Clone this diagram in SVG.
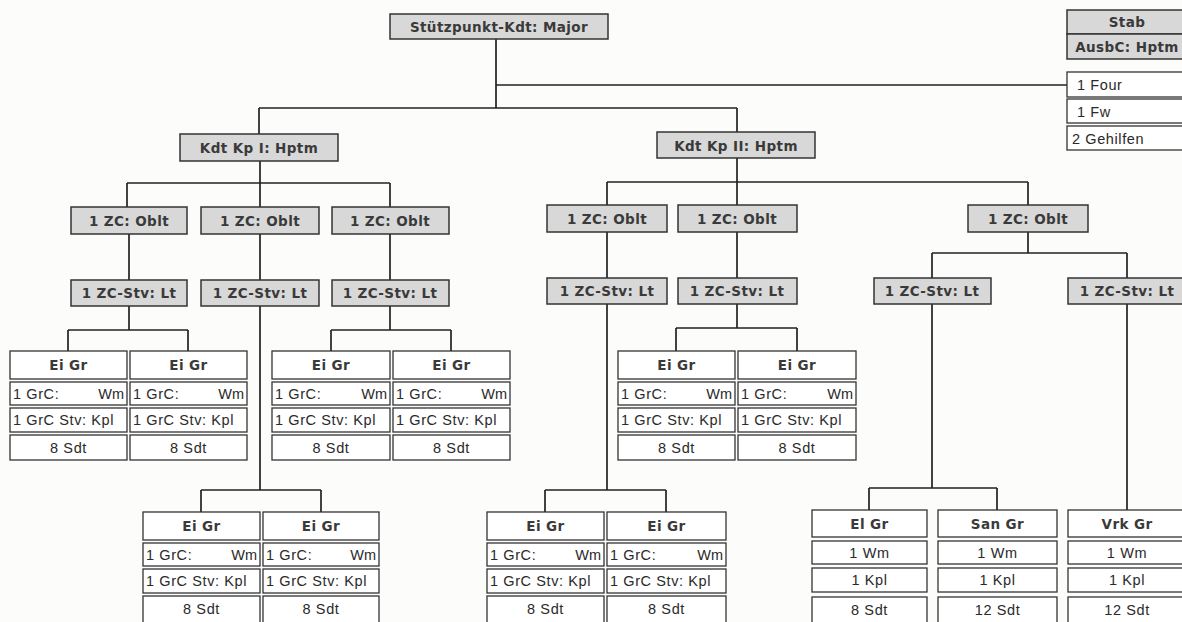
<svg xmlns="http://www.w3.org/2000/svg" width="1182" height="622" viewBox="0 0 1182 622">
<style>
.g{fill:#d8d8d8;stroke:#333;stroke-width:1.5}
.w{fill:#fff;stroke:#333;stroke-width:1.3}
.c{fill:none;stroke:#222;stroke-width:1.7}
.b{font-family:"DejaVu Sans","Liberation Sans",sans-serif;font-weight:bold;font-size:13.5px;letter-spacing:0.4px;fill:#3a3a3a;text-anchor:middle}
.t{font-family:"Liberation Sans",Arial,sans-serif;font-size:14.5px;letter-spacing:0.6px;fill:#2a2a2a}
.m{text-anchor:middle}
.e{text-anchor:end;letter-spacing:0}
</style>
<rect width="1182" height="622" fill="#fcfcfb"/>
<g id="connectors" class="c">
<path d="M496 39V108M259 108H737M259 108V134M737 108V132M496 85H1067"/>
<path d="M260 161V207M127 183H390M127 183V207M390 183V207"/>
<path d="M129 234V280M260 234V280M390 234V280"/>
<path d="M129 306V330M68 330H188M68 330V351M188 330V351"/>
<path d="M390 306V330M331 330H451M331 330V351M451 330V351"/>
<path d="M260 306V490M201 490H321M201 490V512M321 490V512"/>
<path d="M737 157V205M607 182H1028M607 182V205M1028 182V205"/>
<path d="M607 232V278M737 232V278M1028 232V253M932 253H1127M932 253V278M1127 253V278"/>
<path d="M737 304V328M676 328H797M676 328V351M797 328V351"/>
<path d="M607 304V490M545 490H666M545 490V512M666 490V512"/>
<path d="M932 304V488M869 488H997M869 488V510M997 488V510"/>
<path d="M1127 304V510"/>
</g>
<g id="major"><rect class="g" x="390" y="14" width="218" height="25"/><text class="b" x="499" y="32">Stützpunkt-Kdt: Major</text></g>
<g id="stab">
<rect class="g" x="1067" y="10" width="120" height="24"/><text class="b" x="1127" y="27">Stab</text>
<rect class="g" x="1067" y="34" width="120" height="25"/><text class="b" x="1127" y="52">AusbC: Hptm</text>
<rect class="w" x="1067" y="72" width="120" height="25"/><text class="t" x="1077" y="90">1 Four</text>
<rect class="w" x="1067" y="99" width="120" height="24"/><text class="t" x="1077" y="117">1 Fw</text>
<rect class="w" x="1067" y="126" width="120" height="24"/><text class="t" x="1072" y="144">2 Gehilfen</text>
</g>
<g id="kp1"><rect class="g" x="180" y="134" width="158" height="27"/><text class="b" x="259" y="153">Kdt Kp I: Hptm</text></g>
<g id="kp2"><rect class="g" x="657" y="132" width="158" height="26"/><text class="b" x="736" y="151">Kdt Kp II: Hptm</text></g>
<g id="zc1"><rect class="g" x="71" y="207" width="116" height="27"/><text class="b" x="129" y="226">1 ZC: Oblt</text></g>
<g id="zc2"><rect class="g" x="201" y="207" width="118" height="27"/><text class="b" x="260" y="226">1 ZC: Oblt</text></g>
<g id="zc3"><rect class="g" x="332" y="207" width="117" height="27"/><text class="b" x="390" y="226">1 ZC: Oblt</text></g>
<g id="zc4"><rect class="g" x="547" y="205" width="120" height="27"/><text class="b" x="607" y="224">1 ZC: Oblt</text></g>
<g id="zc5"><rect class="g" x="678" y="205" width="119" height="27"/><text class="b" x="737" y="224">1 ZC: Oblt</text></g>
<g id="zc6"><rect class="g" x="968" y="205" width="120" height="27"/><text class="b" x="1028" y="224">1 ZC: Oblt</text></g>
<g id="stv1"><rect class="g" x="71" y="280" width="116" height="26"/><text class="b" x="129" y="298">1 ZC-Stv: Lt</text></g>
<g id="stv2"><rect class="g" x="201" y="280" width="118" height="26"/><text class="b" x="260" y="298">1 ZC-Stv: Lt</text></g>
<g id="stv3"><rect class="g" x="332" y="280" width="117" height="26"/><text class="b" x="390" y="298">1 ZC-Stv: Lt</text></g>
<g id="stv4"><rect class="g" x="547" y="278" width="120" height="26"/><text class="b" x="607" y="296">1 ZC-Stv: Lt</text></g>
<g id="stv5"><rect class="g" x="678" y="278" width="119" height="26"/><text class="b" x="737" y="296">1 ZC-Stv: Lt</text></g>
<g id="stv6"><rect class="g" x="874" y="278" width="117" height="26"/><text class="b" x="932" y="296">1 ZC-Stv: Lt</text></g>
<g id="stv7"><rect class="g" x="1068" y="278" width="118" height="26"/><text class="b" x="1127" y="296">1 ZC-Stv: Lt</text></g>

<g id="ei1">
<rect class="w" x="10" y="351" width="117" height="28"/><text class="b" x="68.5" y="370">Ei Gr</text>
<rect class="w" x="10" y="382" width="117" height="23"/><text class="t" x="13" y="399">1 GrC:</text><text class="t e" x="124" y="399">Wm</text>
<rect class="w" x="10" y="408" width="117" height="24"/><text class="t" x="13" y="425">1 GrC Stv: Kpl</text>
<rect class="w" x="10" y="435" width="117" height="25"/><text class="t m" x="68.5" y="453">8 Sdt</text>
</g>
<g id="ei2">
<rect class="w" x="130" y="351" width="117" height="28"/><text class="b" x="188.5" y="370">Ei Gr</text>
<rect class="w" x="130" y="382" width="117" height="23"/><text class="t" x="133" y="399">1 GrC:</text><text class="t e" x="244" y="399">Wm</text>
<rect class="w" x="130" y="408" width="117" height="24"/><text class="t" x="133" y="425">1 GrC Stv: Kpl</text>
<rect class="w" x="130" y="435" width="117" height="25"/><text class="t m" x="188.5" y="453">8 Sdt</text>
</g>
<g id="ei3">
<rect class="w" x="272" y="351" width="118" height="28"/><text class="b" x="331" y="370">Ei Gr</text>
<rect class="w" x="272" y="382" width="118" height="23"/><text class="t" x="275" y="399">1 GrC:</text><text class="t e" x="387" y="399">Wm</text>
<rect class="w" x="272" y="408" width="118" height="24"/><text class="t" x="275" y="425">1 GrC Stv: Kpl</text>
<rect class="w" x="272" y="435" width="118" height="25"/><text class="t m" x="331" y="453">8 Sdt</text>
</g>
<g id="ei4">
<rect class="w" x="393" y="351" width="117" height="28"/><text class="b" x="451.5" y="370">Ei Gr</text>
<rect class="w" x="393" y="382" width="117" height="23"/><text class="t" x="396" y="399">1 GrC:</text><text class="t e" x="507" y="399">Wm</text>
<rect class="w" x="393" y="408" width="117" height="24"/><text class="t" x="396" y="425">1 GrC Stv: Kpl</text>
<rect class="w" x="393" y="435" width="117" height="25"/><text class="t m" x="451.5" y="453">8 Sdt</text>
</g>
<g id="ei5">
<rect class="w" x="618" y="351" width="117" height="28"/><text class="b" x="676.5" y="370">Ei Gr</text>
<rect class="w" x="618" y="382" width="117" height="23"/><text class="t" x="621" y="399">1 GrC:</text><text class="t e" x="732" y="399">Wm</text>
<rect class="w" x="618" y="408" width="117" height="24"/><text class="t" x="621" y="425">1 GrC Stv: Kpl</text>
<rect class="w" x="618" y="435" width="117" height="25"/><text class="t m" x="676.5" y="453">8 Sdt</text>
</g>
<g id="ei6">
<rect class="w" x="738" y="351" width="118" height="28"/><text class="b" x="797" y="370">Ei Gr</text>
<rect class="w" x="738" y="382" width="118" height="23"/><text class="t" x="741" y="399">1 GrC:</text><text class="t e" x="853" y="399">Wm</text>
<rect class="w" x="738" y="408" width="118" height="24"/><text class="t" x="741" y="425">1 GrC Stv: Kpl</text>
<rect class="w" x="738" y="435" width="118" height="25"/><text class="t m" x="797" y="453">8 Sdt</text>
</g>
<g id="ei7">
<rect class="w" x="143" y="512" width="117" height="28"/><text class="b" x="201.5" y="531">Ei Gr</text>
<rect class="w" x="143" y="543" width="117" height="23"/><text class="t" x="146" y="560">1 GrC:</text><text class="t e" x="257" y="560">Wm</text>
<rect class="w" x="143" y="569" width="117" height="24"/><text class="t" x="146" y="586">1 GrC Stv: Kpl</text>
<rect class="w" x="143" y="596" width="117" height="28"/><text class="t m" x="201.5" y="614">8 Sdt</text>
</g>
<g id="ei8">
<rect class="w" x="263" y="512" width="116" height="28"/><text class="b" x="321" y="531">Ei Gr</text>
<rect class="w" x="263" y="543" width="116" height="23"/><text class="t" x="266" y="560">1 GrC:</text><text class="t e" x="376" y="560">Wm</text>
<rect class="w" x="263" y="569" width="116" height="24"/><text class="t" x="266" y="586">1 GrC Stv: Kpl</text>
<rect class="w" x="263" y="596" width="116" height="28"/><text class="t m" x="321" y="614">8 Sdt</text>
</g>
<g id="ei9">
<rect class="w" x="487" y="512" width="117" height="28"/><text class="b" x="545.5" y="531">Ei Gr</text>
<rect class="w" x="487" y="543" width="117" height="23"/><text class="t" x="490" y="560">1 GrC:</text><text class="t e" x="601" y="560">Wm</text>
<rect class="w" x="487" y="569" width="117" height="24"/><text class="t" x="490" y="586">1 GrC Stv: Kpl</text>
<rect class="w" x="487" y="596" width="117" height="28"/><text class="t m" x="545.5" y="614">8 Sdt</text>
</g>
<g id="ei10">
<rect class="w" x="607" y="512" width="119" height="28"/><text class="b" x="666.5" y="531">Ei Gr</text>
<rect class="w" x="607" y="543" width="119" height="23"/><text class="t" x="610" y="560">1 GrC:</text><text class="t e" x="723" y="560">Wm</text>
<rect class="w" x="607" y="569" width="119" height="24"/><text class="t" x="610" y="586">1 GrC Stv: Kpl</text>
<rect class="w" x="607" y="596" width="119" height="28"/><text class="t m" x="666.5" y="614">8 Sdt</text>
</g>
<g id="elgr">
<rect class="w" x="812" y="510" width="115" height="27"/><text class="b" x="869.5" y="529">El Gr</text>
<rect class="w" x="812" y="541" width="115" height="23"/><text class="t m" x="869.5" y="558">1 Wm</text>
<rect class="w" x="812" y="568" width="115" height="24"/><text class="t m" x="869.5" y="585">1 Kpl</text>
<rect class="w" x="812" y="597" width="115" height="28"/><text class="t m" x="869.5" y="615">8 Sdt</text>
</g>
<g id="sangr">
<rect class="w" x="938" y="510" width="119" height="27"/><text class="b" x="997.5" y="529">San Gr</text>
<rect class="w" x="938" y="541" width="119" height="23"/><text class="t m" x="997.5" y="558">1 Wm</text>
<rect class="w" x="938" y="568" width="119" height="24"/><text class="t m" x="997.5" y="585">1 Kpl</text>
<rect class="w" x="938" y="597" width="119" height="28"/><text class="t m" x="997.5" y="615">12 Sdt</text>
</g>
<g id="vrkgr">
<rect class="w" x="1068" y="510" width="120" height="27"/><text class="b" x="1127" y="529">Vrk Gr</text>
<rect class="w" x="1068" y="541" width="120" height="23"/><text class="t m" x="1127" y="558">1 Wm</text>
<rect class="w" x="1068" y="568" width="120" height="24"/><text class="t m" x="1127" y="585">1 Kpl</text>
<rect class="w" x="1068" y="597" width="120" height="28"/><text class="t m" x="1127" y="615">12 Sdt</text>
</g>
</svg>
